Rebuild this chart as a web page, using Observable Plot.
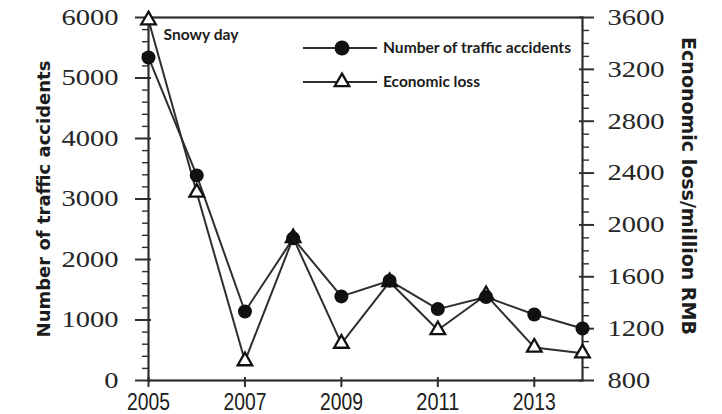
<!DOCTYPE html>
<html>
<head>
<meta charset="utf-8">
<script src="https://cdn.jsdelivr.net/npm/d3@7"></script>
<script src="https://cdn.jsdelivr.net/npm/@observablehq/plot@0.6"></script>
<style>
  html, body { margin: 0; padding: 0; background: #fff; }
  #chart svg { display: block; }
</style>
</head>
<body>
<div id="chart"></div>
<script>
// Traffic accidents and economic loss, 2005–2014
const years = [2005, 2006, 2007, 2008, 2009, 2010, 2011, 2012, 2013, 2014];
const accidents = [5340, 3390, 1140, 2350, 1390, 1650, 1180, 1380, 1090, 860];
const economicLoss = [3580, 2250, 950, 1900, 1085, 1560, 1190, 1460, 1055, 1010]; // million RMB

const countTicks = [0, 1000, 2000, 3000, 4000, 5000, 6000];
const lossTicks = [800, 1200, 1600, 2000, 2400, 2800, 3200, 3600];
const yearTicks = [2005, 2007, 2009, 2011, 2013];

const countDomain = [0, 6000];
const lossDomain = [800, 3600];

// The loss series shares the plot's y scale through a linear mapping onto the count domain
const lossToCount = v => countDomain[0] + (v - lossDomain[0]) / (lossDomain[1] - lossDomain[0]) * (countDomain[1] - countDomain[0]);
const countToLoss = c => lossDomain[0] + (c - countDomain[0]) / (countDomain[1] - countDomain[0]) * (lossDomain[1] - lossDomain[0]);

const rows = years.map((year, i) => ({year, accidents: accidents[i], loss: lossToCount(economicLoss[i])}));

const countMinor = d3.range(0, 6001, 200).filter(v => v % 1000 !== 0);
const lossMinor = d3.range(800, 3601, 100).filter(v => v % 400 !== 0).map(lossToCount);

const ink = "#1c1c1c";
const lineInk = "#2e2e2e";
const serif = "Liberation Serif, DejaVu Serif, serif";
const titleFont = "DejaVu Sans, sans-serif";
const noteFont = "Lato, Open Sans, sans-serif";

const chart = Plot.plot({
  width: 722,
  height: 414,
  marginLeft: 148,
  marginRight: 140,
  marginTop: 17,
  marginBottom: 34,
  x: {domain: [2005, 2014], label: null},
  y: {domain: countDomain, label: null},
  style: {background: "white", color: ink},
  marks: [
    Plot.frame({stroke: lineInk, strokeWidth: 2.2}),

    // left axis: minor ticks, majors crossing the axis line
    Plot.axisY({ticks: countMinor, tickSize: 6, fill: "none", label: null, stroke: lineInk, strokeWidth: 1.4}),
    Plot.axisY({ticks: countTicks, tickSize: -3, fill: "none", label: null, stroke: lineInk, strokeWidth: 2}),
    Plot.axisY({
      ticks: countTicks, tickSize: 13, tickPadding: 17, label: null,
      stroke: lineInk, strokeWidth: 2,
      tickFormat: d => String(d), fontSize: 23, fontFamily: serif, fill: "#262626"
    }),

    // right axis in million RMB
    Plot.axisY({anchor: "right", ticks: lossMinor, tickSize: 6, fill: "none", label: null, stroke: lineInk, strokeWidth: 1.4}),
    Plot.axisY({anchor: "right", ticks: lossTicks.map(lossToCount), tickSize: -4, fill: "none", label: null, stroke: lineInk, strokeWidth: 2}),
    Plot.axisY({
      anchor: "right", ticks: lossTicks.map(lossToCount), tickSize: 11, tickPadding: 14, label: null,
      stroke: lineInk, strokeWidth: 2,
      tickFormat: d => String(Math.round(countToLoss(d))), fontSize: 23, fontFamily: serif, fill: "#262626"
    }),

    // bottom axis
    Plot.axisX({ticks: yearTicks, tickSize: -3, fill: "none", label: null, stroke: lineInk, strokeWidth: 2}),
    Plot.axisX({
      ticks: yearTicks, tickSize: 7, tickPadding: 5, label: null,
      stroke: lineInk, strokeWidth: 2,
      tickFormat: d => String(d), fontSize: 24, fontFamily: "Liberation Sans Narrow, Liberation Sans, sans-serif", fill: ink
    }),

    // series
    Plot.line(rows, {x: "year", y: "loss", stroke: lineInk, strokeWidth: 2}),
    Plot.line(rows, {x: "year", y: "accidents", stroke: lineInk, strokeWidth: 2}),
    Plot.dot(rows, {x: "year", y: "loss", symbol: "triangle", r: 5.4, fill: "white", stroke: "#111", strokeWidth: 2.3}),
    Plot.dot(rows, {x: "year", y: "accidents", r: 7, fill: "#111"}),

    // annotation on the first year
    Plot.text([rows[0]], {
      x: "year", y: "loss", text: () => "Snowy day", dx: 15, dy: 15,
      textAnchor: "start", fontWeight: "bold", fontSize: 15, fontFamily: noteFont, fill: ink
    }),

    // axis titles
    Plot.text(["Number of traffic accidents"], {
      frameAnchor: "left", dx: -104, dy: 0, rotate: -90, textAnchor: "middle", lineAnchor: "middle",
      fontWeight: "bold", fontSize: 18, fontFamily: titleFont, fill: ink
    }),
    Plot.text(["Ecnonomic loss/million RMB"], {
      frameAnchor: "right", dx: 106, dy: -13, rotate: 90, textAnchor: "middle", lineAnchor: "middle",
      fontWeight: "bold", fontSize: 19, fontFamily: titleFont, fill: ink
    })
  ]
});

document.getElementById("chart").appendChild(chart);

const svg = d3.select(chart);

// legend inside the upper-right of the frame
const legendItems = [
  {label: "Number of traffic accidents", kind: "circle", y: 48, length: 188},
  {label: "Economic loss", kind: "triangle", y: 82, length: 97}
];
const legend = svg.append("g").attr("class", "legend").attr("text-anchor", "start");
legendItems.forEach(item => {
  const g = legend.append("g").attr("transform", `translate(0,${item.y})`);
  g.append("line").attr("x1", 303).attr("x2", 377).attr("y1", 0).attr("y2", 0)
    .attr("stroke", lineInk).attr("stroke-width", 2);
  if (item.kind === "circle") {
    g.append("circle").attr("cx", 342).attr("cy", 0).attr("r", 7.5).attr("fill", "#111");
  } else {
    g.append("path").attr("transform", "translate(342,0)")
      .attr("d", d3.symbol(d3.symbolTriangle, Math.PI * 5.4 * 5.4)())
      .attr("fill", "white").attr("stroke", "#111").attr("stroke-width", 2.3);
  }
  g.append("text").attr("x", 383).attr("y", 0).attr("dy", "0.35em")
    .attr("text-anchor", "start")
    .attr("font-family", noteFont).attr("font-weight", "bold").attr("font-size", 15)
    .attr("fill", ink).attr("data-len", item.length).text(item.label);
});

// stretch text runs to their set widths
function fitLength(sel, targetFn) {
  sel.each(function () {
    const target = targetFn(this);
    if (!target) return;
    this.setAttribute("textLength", target);
    this.setAttribute("lengthAdjust", "spacingAndGlyphs");
  });
}
fitLength(svg.selectAll("[aria-label='y-axis tick label'] text"), node => node.getComputedTextLength() * 1.24);
fitLength(svg.selectAll("[aria-label='x-axis tick label'] text"), node => 43);
fitLength(svg.selectAll("text").filter(function () { return this.textContent === "Snowy day"; }), node => 75);
fitLength(svg.selectAll(".legend text"), node => +node.getAttribute("data-len"));
</script>
</body>
</html>
